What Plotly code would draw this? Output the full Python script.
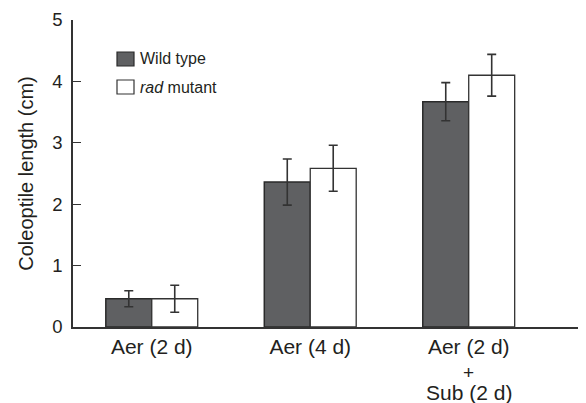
import plotly.graph_objects as go

categories = ["Aer (2 d)", "Aer (4 d)", "Aer (2 d)+Sub (2 d)"]
tick_labels = ["Aer (2 d)", "Aer (4 d)", "Aer (2 d)"]
wild_type = [0.46, 2.36, 3.67]
wild_type_err = [0.13, 0.375, 0.31]
rad_mutant = [0.46, 2.585, 4.10]
rad_mutant_err = [0.22, 0.375, 0.34]
y_ticks = [0, 1, 2, 3, 4, 5]

FONT = "Liberation Sans, Arial, Helvetica, sans-serif"
TXT = "#231f20"
AX = "#333333"

# page body has 8px margin; figure occupies (8..586, 8..403)
W, H = 578, 395
ML, MR, MT, MB = 65, 0, 12, 76
PW, PH = W - ML - MR, H - MT - MB


def px(xp):  # window x -> paper
    return (xp - 8 - ML) / PW


def py(yp):  # window y -> paper
    return (H - MB - (yp - 8)) / PH


x_idx = list(range(len(categories)))

fig = go.Figure()
fig.add_trace(go.Bar(
    x=x_idx, y=wild_type, name="Wild type",
    marker=dict(color="#5f6062", line=dict(color="#2a2a2a", width=1.5)),
    error_y=dict(type="data", array=wild_type_err, color=AX, thickness=1.6, width=4.5),
    showlegend=False,
))
fig.add_trace(go.Bar(
    x=x_idx, y=rad_mutant, name="rad mutant",
    marker=dict(color="#ffffff", line=dict(color="#333333", width=1.3)),
    error_y=dict(type="data", array=rad_mutant_err, color=AX, thickness=1.6, width=4.5),
    showlegend=False,
))

fig.update_layout(
    width=W, height=H,
    margin=dict(l=ML, r=MR, t=MT, b=MB),
    paper_bgcolor="white", plot_bgcolor="white",
    barmode="group", bargap=0.42, bargroupgap=0,
    font=dict(family=FONT, color=TXT, size=19),
)
fig.update_xaxes(
    range=[-0.497, 2.74],
    tickmode="array", tickvals=x_idx, ticktext=tick_labels,
    showline=True, linecolor=AX, linewidth=1.5,
    ticks="", showgrid=False, zeroline=False,
    tickfont=dict(size=21),
)
fig.update_yaxes(
    range=[0, 5], tickmode="array", tickvals=y_ticks,
    showline=True, linecolor=AX, linewidth=1.5,
    ticks="inside", ticklen=8, tickwidth=1.2, tickcolor=AX,
    showgrid=False, zeroline=False,
    tickfont=dict(size=18.5), ticklabelstandoff=5,
    title=dict(text="Coleoptile length (cm)", font=dict(size=20), standoff=13),
)

# multi-line third label continuation
fig.add_annotation(x=2, y=0, xref="x", yref="y", text="+", showarrow=False,
                   yanchor="middle", yshift=-45, font=dict(size=19))
fig.add_annotation(x=2, y=0, xref="x", yref="y", text="Sub (2 d)", showarrow=False,
                   yanchor="middle", yshift=-65, font=dict(size=21))

# custom legend
fig.add_shape(type="rect", xref="paper", yref="paper",
              x0=px(117), x1=px(134), y0=py(66), y1=py(52),
              fillcolor="#5f6062", line=dict(color="#2a2a2a", width=1.2))
fig.add_shape(type="rect", xref="paper", yref="paper",
              x0=px(117), x1=px(134), y0=py(94), y1=py(80),
              fillcolor="#ffffff", line=dict(color="#333333", width=1.2))
fig.add_annotation(xref="paper", yref="paper", x=px(138), y=py(59),
                   text="Wild type", showarrow=False, xanchor="left", yanchor="middle",
                   font=dict(size=16))
fig.add_annotation(xref="paper", yref="paper", x=px(138), y=py(87),
                   text="<i>rad</i> mutant", showarrow=False, xanchor="left", yanchor="middle",
                   font=dict(size=16))

fig.write_html("out.html")
